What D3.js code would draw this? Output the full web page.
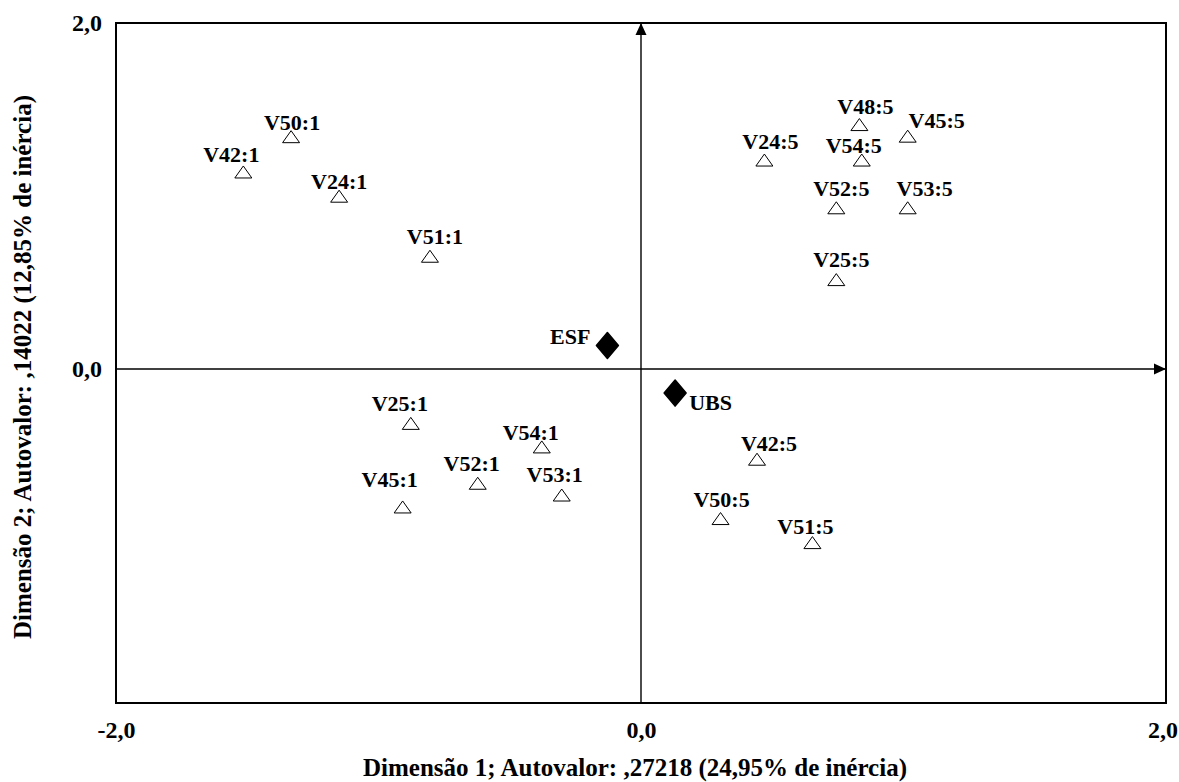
<!DOCTYPE html>
<html>
<head>
<meta charset="utf-8">
<script src="https://cdn.jsdelivr.net/npm/d3@7"></script>
<style>
  body { margin: 0; background: #fff; }
  text { font-family: "Liberation Serif", "Times New Roman", serif; font-weight: bold; fill: #000; }
</style>
</head>
<body>
<svg id="chart" width="1179" height="782"></svg>
<script>
// Category coordinates on the first two dimensions
const categoryLabels = ["V50:1", "V42:1", "V24:1", "V51:1", "V25:1", "V54:1", "V52:1", "V53:1", "V45:1",
                        "V24:5", "V48:5", "V45:5", "V54:5", "V52:5", "V53:5", "V25:5", "V42:5", "V50:5", "V51:5"];
const dim1 = [-1.333, -1.515, -1.150, -0.804, -0.877, -0.378, -0.622, -0.302, -0.908,
               0.470,  0.832,  1.016,  0.841,  0.744,  1.016,  0.744,  0.442,  0.303,  0.653];
const dim2 = [ 1.343,  1.139,  0.999,  0.652, -0.314, -0.450, -0.660, -0.728, -0.797,
               1.208,  1.413,  1.346,  1.208,  0.932,  0.932,  0.517, -0.521, -0.864, -1.003];

// Supplementary points (service type)
const groupLabels = ["ESF", "UBS"];
const groupDim1 = [-0.128, 0.130];
const groupDim2 = [0.136, -0.139];

// Axis extents and ticks
const xExtent = [-2, 2];
const yExtent = [-1.93, 2];
const xTicks = [-2, 0, 2];
const yTicks = [0, 2];
const xTitle = "Dimensão 1; Autovalor: ,27218 (24,95% de inércia)";
const yTitle = "Dimensão 2; Autovalor: ,14022 (12,85% de inércia)";

// Label nudges (px) keeping point labels from colliding
const labelDx = [1, -12, 0, 5, -11, -11, -6, -7, -13, 6, 6, 29, -8, 5, 17, 5, 12, 1, -7];
const labelDy = [-7, -10, -7, -12, -12, -7, -12, -13, -20, -11, -11, -8, -7, -12, -12, -13, -8, -12, -9];

const W = 1179, H = 782;
const plot = { left: 116, right: 1166, top: 23, bottom: 703 };

const svg = d3.select("#chart");
svg.append("rect").attr("width", W).attr("height", H).attr("fill", "#fff");

const x = d3.scaleLinear().domain(xExtent).range([plot.left, plot.right]);
const y = d3.scaleLinear().domain(yExtent).range([plot.bottom, plot.top]);

const locale = d3.formatLocale({ decimal: ",", thousands: ".", grouping: [3], currency: ["", ""], minus: "-" });
const fmt = locale.format(".1f");

// Frame
svg.append("rect")
  .attr("x", plot.left).attr("y", plot.top)
  .attr("width", plot.right - plot.left).attr("height", plot.bottom - plot.top)
  .attr("fill", "none").attr("stroke", "#000").attr("stroke-width", 2);

// Bottom tick labels
const xAxis = svg.append("g")
  .attr("transform", `translate(0,${plot.bottom})`)
  .call(d3.axisBottom(x).tickValues(xTicks).tickFormat(fmt).tickSize(0).tickPadding(18));
xAxis.select(".domain").remove();
xAxis.selectAll("text")
  .attr("font-size", 24)
  .style("font-family", '"Liberation Serif", "Times New Roman", serif')
  .style("font-weight", "bold")
  .attr("fill", "#000")
  .each(function() {
    // keep the outermost label inside the page
    const bb = this.getBBox();
    const tx = +this.parentNode.getAttribute("transform").match(/translate\(([-\d.]+)/)[1];
    const over = tx + bb.x + bb.width - (W - 1);
    if (over > 0) d3.select(this).attr("x", -over);
  });

// Left tick labels
const yAxis = svg.append("g")
  .attr("transform", `translate(${plot.left},0)`)
  .call(d3.axisLeft(y).tickValues(yTicks).tickFormat(fmt).tickSize(0).tickPadding(14));
yAxis.select(".domain").remove();
yAxis.selectAll("text")
  .attr("font-size", 24)
  .style("font-family", '"Liberation Serif", "Times New Roman", serif')
  .style("font-weight", "bold")
  .attr("fill", "#000");

// Origin axes with arrowheads
const defs = svg.append("defs");
defs.append("marker")
  .attr("id", "arrow")
  .attr("viewBox", "0 0 12 12")
  .attr("refX", 12).attr("refY", 6)
  .attr("markerWidth", 12).attr("markerHeight", 12)
  .attr("markerUnits", "userSpaceOnUse")
  .attr("orient", "auto")
  .append("path").attr("d", "M0,0.5L12,6L0,11.5Z").attr("fill", "#000");

svg.append("line")
  .attr("x1", plot.left).attr("x2", plot.right)
  .attr("y1", y(0)).attr("y2", y(0))
  .attr("stroke", "#000").attr("stroke-width", 1.4)
  .attr("marker-end", "url(#arrow)");
svg.append("line")
  .attr("x1", x(0)).attr("x2", x(0))
  .attr("y1", plot.bottom).attr("y2", plot.top)
  .attr("stroke", "#000").attr("stroke-width", 1.4)
  .attr("marker-end", "url(#arrow)");

// Category points
const pts = categoryLabels.map((label, i) => ({ label, d1: dim1[i], d2: dim2[i], dx: labelDx[i], dy: labelDy[i] }));

svg.append("g").selectAll("path")
  .data(pts).join("path")
  .attr("transform", d => `translate(${x(d.d1)},${y(d.d2)})`)
  .attr("d", "M0,-6L8.5,6L-8.5,6Z")
  .attr("fill", "none").attr("stroke", "#000").attr("stroke-width", 1);

svg.append("g").selectAll("text")
  .data(pts).join("text")
  .attr("x", d => x(d.d1) + d.dx)
  .attr("y", d => y(d.d2) + d.dy)
  .attr("text-anchor", "middle")
  .attr("font-size", 22)
  .text(d => d.label);

// Supplementary points
const grp = groupLabels.map((label, i) => ({ label, d1: groupDim1[i], d2: groupDim2[i] }));
svg.append("g").selectAll("path")
  .data(grp).join("path")
  .attr("transform", d => `translate(${x(d.d1)},${y(d.d2)})`)
  .attr("d", "M0,-13L11,0L0,13L-11,0Z")
  .attr("fill", "#000").attr("stroke", "#000").attr("stroke-width", 1.5)
  .attr("stroke-linejoin", "round");

svg.append("g").selectAll("text")
  .data(grp).join("text")
  .attr("x", (d, i) => x(d.d1) + (i === 0 ? -17 : 14))
  .attr("y", (d, i) => y(d.d2) + (i === 0 ? -2 : 17))
  .attr("text-anchor", (d, i) => i === 0 ? "end" : "start")
  .attr("font-size", 22)
  .text(d => d.label);

// Axis titles
svg.append("text")
  .attr("x", (plot.left + plot.right) / 2 - 6)
  .attr("y", 776)
  .attr("text-anchor", "middle")
  .attr("font-size", 25)
  .text(xTitle);

svg.append("text")
  .attr("transform", `translate(31,${(plot.top + plot.bottom) / 2 + 4}) rotate(-90)`)
  .attr("text-anchor", "middle")
  .attr("font-size", 25)
  .text(yTitle);
</script>
</body>
</html>
